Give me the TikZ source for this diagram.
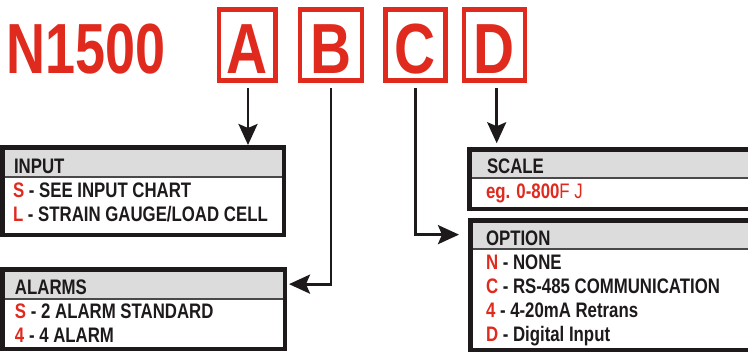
\documentclass[tikz,border=0pt]{standalone}
\usepackage{fontspec}
\usetikzlibrary{arrows.meta}
\newfontfamily\titlefam{Liberation Sans}[FakeStretch=0.76]
\newfontfamily\letterfam{Liberation Sans}[FakeStretch=0.8]
\newfontfamily\txtfam{Liberation Sans}[FakeStretch=0.8]
\definecolor{nred}{RGB}{224,42,30}
\definecolor{hgray}{RGB}{220,220,220}
\definecolor{ink}{RGB}{30,26,27}
\newcommand{\R}[1]{\textcolor{nred}{#1}}
\tikzset{
  redbox/.style={draw=nred, line width=4.5pt, fill=white, inner sep=0pt, outer sep=0pt,
    text=nred, font=\letterfam\bfseries\fontsize{71}{71}\selectfont, text height=56pt, text depth=0pt,
    minimum height=71pt},
  panel/.style={draw=ink, line width=4.5pt, inner sep=0pt, outer sep=0pt, anchor=north west},
  hdr/.style={fill=hgray, draw=none, inner sep=0pt, outer sep=0pt, anchor=north west},
  sepline/.style={draw=ink!80, line width=2pt},
  txt/.style={anchor=base west, inner sep=0pt, outer sep=0pt, text=ink,
    font=\txtfam\bfseries\fontsize{21}{21}\selectfont},
  conn/.style={draw=ink, line width=2.8pt, -{Stealth[length=21pt,width=19pt,inset=4pt]}}
}
\begin{document}
\begin{tikzpicture}[x=1pt,y=-1pt]
\useasboundingbox (0,0) rectangle (748,354);
\clip (0,0) rectangle (748,354);
\fill[white] (0,0) rectangle (748,354);

% title
\node[anchor=base west, inner sep=0pt, text=nred,
  font=\titlefam\bfseries\fontsize{71}{71}\selectfont] (title) at (6,73) {N1500};

% code boxes
\node[redbox, minimum width=56.5pt] (A) at (247.2,45) {A};
\node[redbox, minimum width=62.1pt] (B) at (331,45) {B};
\node[redbox, minimum width=59.9pt] (C) at (415.5,45) {C};
\node[redbox, minimum width=61.1pt] (D) at (494.5,45) {D};

% panel headers
\node[hdr, minimum width=281.5pt, minimum height=29.75pt] (inputh) at (2.25,147.25) {};
\node[hdr, minimum width=282.5pt, minimum height=29.75pt] (alarmsh) at (2.25,269.25) {};
\node[hdr, minimum width=330.75pt, minimum height=28.75pt] (scaleh) at (469.25,149.25) {};
\node[hdr, minimum width=329.75pt, minimum height=28.75pt] (optionh) at (470.25,220.25) {};

\draw[sepline] (inputh.south west) -- (inputh.south east);
\draw[sepline] (alarmsh.south west) -- (alarmsh.south east);
\draw[sepline] (scaleh.south west) -- (scaleh.south east);
\draw[sepline] (optionh.south west) -- (optionh.south east);

% panel borders
\node[panel, minimum width=281.5pt, minimum height=87.5pt] (input) at (2.25,147.25) {};
\node[panel, minimum width=282.5pt, minimum height=79.5pt] (alarms) at (2.25,269.25) {};
\node[panel, minimum width=330.75pt, minimum height=59.5pt] (scale) at (469.25,149.25) {};
\node[panel, minimum width=329.75pt, minimum height=129.5pt] (option) at (470.25,220.25) {};

% INPUT texts
\node[txt] (t1) at (14,173) {INPUT};
\node[txt] (t2) at (13,197) {\R{S} - SEE INPUT CHART};
\node[txt] (t3) at (13,221) {\R{L} - STRAIN GAUGE/LOAD CELL};

% ALARMS texts
\node[txt] (t4) at (15,294) {ALARMS};
\node[txt] (t5) at (15,318) {\R{S} - 2 ALARM STANDARD};
\node[txt] (t6) at (15,342) {\R{4} - 4 ALARM};

% SCALE texts
\node[txt] (t7) at (487,173) {SCALE};
\node[txt, text=nred] (t8) at (486,198) {eg. 0-800\mdseries F J};

% OPTION texts
\node[txt] (t9) at (486,245) {OPTION};
\node[txt] (t10) at (486,269) {\R{N} - NONE};
\node[txt] (t11) at (486,293) {\R{C} - RS-485 COMMUNICATION};
\node[txt] (t12) at (486,317) {\R{4} - 4-20mA Retrans};
\node[txt] (t13) at (486,341) {\R{D} - Digital Input};

% connectors
\draw[conn, shorten >=2.25pt] ([xshift=0.8pt,yshift=-7.5pt]A.south) -- ([xshift=0.8pt]A.south |- input.north);
\draw[conn, shorten >=4.25pt] ([yshift=-7.5pt]B.south) |- (alarmsh.east);
\draw[conn, shorten >=11.25pt] ([yshift=-7.5pt]C.south) |- (optionh.west);
\draw[conn, shorten >=6pt] ([xshift=2.2pt,yshift=-7.5pt]D.south) -- ([xshift=2.2pt]D.south |- scale.north);
\end{tikzpicture}
\end{document}
